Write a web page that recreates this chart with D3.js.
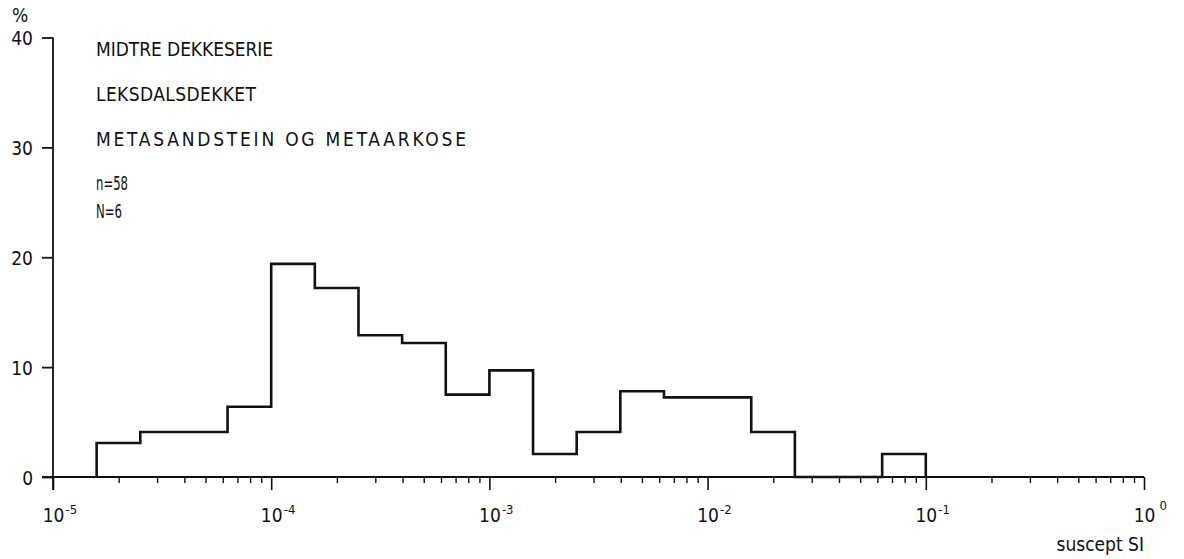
<!DOCTYPE html>
<html><head><meta charset="utf-8">
<script src="https://cdn.jsdelivr.net/npm/d3@7"></script>
<style>
body{margin:0;background:#fff;}
text{font-family:"DejaVu Sans Condensed","DejaVu Sans",sans-serif;font-stretch:condensed;fill:#111;}
</style></head>
<body><svg id="c" width="1184" height="559"></svg>
<script>
// bin lower edges as log10 exponents (bin width 0.2 decades)
const binLoExp = [-4.8,-4.6,-4.4,-4.2,-4.0,-3.8,-3.6,-3.4,-3.2,-3.0,-2.8,-2.6,-2.4,-2.2,-2.0,-1.8,-1.6,-1.4,-1.2];
const binPct   = [3.1, 4.1, 4.1, 6.4, 19.4,17.2,12.9,12.2,7.5, 9.7, 2.1, 4.1, 7.8, 7.25,7.25,4.1, 0,   0,   2.1];
const binWidthExp = 0.2;
const yTicks = [0,10,20,30,40];
const xMajorExp = [-5,-4,-3,-2,-1,0];
const titleLines = ["MIDTRE DEKKESERIE","LEKSDALSDEKKET","METASANDSTEIN OG METAARKOSE"];
const statLines = ["n=58","N=6"];

const svg = d3.select("#c");
const x = d3.scaleLog().domain([1e-5,1]).range([53,1144]);
const y = d3.scaleLinear().domain([0,40]).range([477,37.5]);

// minor ticks
const minor = [];
for (let e=-5;e<0;e++) for (let m=2;m<=9;m++) minor.push(m*Math.pow(10,e));

const gMinor = svg.append("g").attr("transform","translate(0,477)")
  .call(d3.axisBottom(x).tickValues(minor).tickSize(6).tickSizeOuter(0).tickFormat(""));
gMinor.select(".domain").remove();
gMinor.selectAll("line").attr("stroke","#111").attr("stroke-width",1.4);

const gMajor = svg.append("g").attr("transform","translate(0,477)")
  .call(d3.axisBottom(x).tickValues(xMajorExp.map(e=>Math.pow(10,e))).tickSize(13).tickSizeOuter(0).tickFormat(""));
gMajor.select(".domain").remove();
gMajor.selectAll("line").attr("stroke","#111").attr("stroke-width",1.6);
gMajor.selectAll(".tick").each(function(d,i){
  const t = d3.select(this);
  t.append("text").attr("x",0).attr("y",45).attr("text-anchor","middle")
    .attr("font-size",19).style("fill","#111").text("10");
  const e = xMajorExp[i];
  t.append("text").attr("x", e===0?15:12).attr("y",e===0?33:37).attr("text-anchor","start")
    .attr("font-size",13).style("fill","#111").text(e===0?"0":"-"+Math.abs(e));
});

// x axis baseline
svg.append("line").attr("x1",42).attr("x2",x(1)).attr("y1",y(0)).attr("y2",y(0))
  .attr("stroke","#111").attr("stroke-width",2);

// y axis
const gy = svg.append("g").attr("transform","translate(53,0)")
  .call(d3.axisLeft(y).tickValues(yTicks).tickSize(11).tickSizeOuter(0).tickFormat(""));
gy.select(".domain").remove();
gy.selectAll("line").attr("stroke","#111").attr("stroke-width",1.8);
gy.selectAll(".tick").append("text").attr("x",-20).attr("y",7).attr("text-anchor","end")
  .attr("font-size",19).style("fill","#111").text(d=>d);
svg.append("line").attr("x1",53).attr("x2",53).attr("y1",y(40)).attr("y2",490)
  .attr("stroke","#111").attr("stroke-width",1.8);
svg.append("text").attr("x",12).attr("y",22).attr("font-size",19).text("%");

// histogram outline
const pts = [];
binLoExp.forEach((lo,i)=>{
  const a = Math.pow(10,lo), b = Math.pow(10,lo+binWidthExp);
  if (i===0) pts.push([a,0]);
  pts.push([a,binPct[i]]);
  pts.push([b,binPct[i]]);
});
pts.push([Math.pow(10,binLoExp[binLoExp.length-1]+binWidthExp),0]);
svg.append("path").attr("d", d3.line().x(d=>x(d[0])).y(d=>y(d[1]))(pts))
  .attr("fill","none").attr("stroke","#111").attr("stroke-width",2.6).attr("stroke-linejoin","miter");

// titles
const titleY = [56,101,146];
const titleW = [177,160,370];
titleLines.forEach((s,i)=>{
  svg.append("text").attr("x",96).attr("y",titleY[i]).attr("font-size",19)
    .attr("textLength",titleW[i]).attr("lengthAdjust","spacing").text(s);
});
const statY = [190,218];
const statW = [32,26];
statLines.forEach((s,i)=>{
  svg.append("text").attr("x",96).attr("y",statY[i]).attr("font-size",19)
    .attr("textLength",statW[i]).attr("lengthAdjust","spacingAndGlyphs").text(s);
});
svg.append("text").attr("x",1144).attr("y",551).attr("text-anchor","end").attr("font-size",19).text("suscept SI");
</script></body></html>
